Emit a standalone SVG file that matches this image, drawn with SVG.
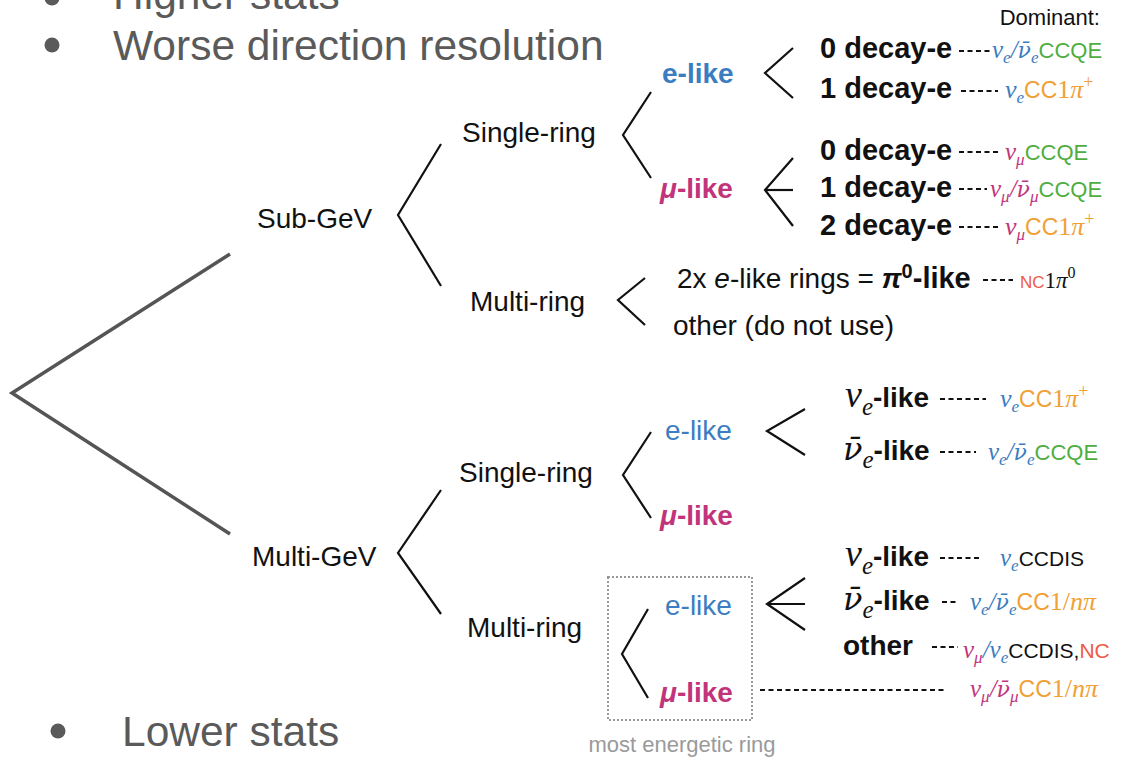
<svg xmlns="http://www.w3.org/2000/svg" width="1124" height="758" viewBox="0 0 1124 758">
<style>
.s{font-family:"Liberation Sans",Arial,sans-serif;}
.lbl{font-family:"Liberation Sans",Arial,sans-serif;font-size:28px;fill:#111;}
.dk{font-family:"Liberation Sans",Arial,sans-serif;font-size:29px;font-weight:bold;fill:#111;}
.b{font-weight:bold}
.m{font-family:"Liberation Serif","Times New Roman",serif;font-style:italic;}
.mb{font-family:"DejaVu Serif",serif;font-style:italic;}
.r{font-family:"Liberation Serif","Times New Roman",serif;}
.blue{fill:#3b7dc0}
.mag{fill:#c1347b}
.grn{fill:#4fae3f}
.org{fill:#f0a035}
.red{fill:#ee5b47}
.blk{fill:#111}
.bul{font-family:"Liberation Sans",Arial,sans-serif;font-size:42.5px;fill:#5a5a5a}
.br{fill:none;stroke:#111;stroke-width:2.2}
.big{fill:none;stroke:#555;stroke-width:3.5}
.dash{stroke:#111;stroke-width:2;stroke-dasharray:5 3.5}
.box{fill:none;stroke:#999;stroke-width:2;stroke-dasharray:2 2}
</style>
<rect width="1124" height="758" fill="#fff"/>

<g id="bullets">
  <circle cx="52" cy="-2" r="7.5" fill="#5a5a5a"/>
  <text class="bul" x="113" y="9">Higher stats</text>
  <circle cx="52" cy="45" r="7.5" fill="#5a5a5a"/>
  <text class="bul" x="113" y="60">Worse direction resolution</text>
  <circle cx="58" cy="731" r="7.5" fill="#5a5a5a"/>
  <text class="bul" x="122" y="746">Lower stats</text>
</g>

<g id="connectors">
  <polyline class="big" points="230,254 12,393 230,534"/>
  <polyline class="br" points="441,144 398,215 441,286"/>
  <polyline class="br" points="441,490 398,553 441,614"/>
  <polyline class="br" points="651,92 623,135 651,178"/>
  <polyline class="br" points="793,48 765,73 793,98"/>
  <polyline class="br" points="793,158 765,190 793,226"/>
  <line class="br" x1="765" y1="190" x2="793" y2="190"/>
  <polyline class="br" points="645,278 618,300 645,325"/>
  <polyline class="br" points="651,432 623,475 651,518"/>
  <polyline class="br" points="805,409 767,431 805,455"/>
  <polyline class="br" points="648,609 622,654 648,698"/>
  <polyline class="br" points="805,578 767,604 805,630"/>
  <line class="br" x1="767" y1="604" x2="805" y2="604"/>
  <line class="dash" x1="959" y1="51" x2="990" y2="51"/>
  <line class="dash" x1="961" y1="91" x2="998" y2="91"/>
  <line class="dash" x1="959" y1="152" x2="1000" y2="152"/>
  <line class="dash" x1="959" y1="189" x2="987" y2="189"/>
  <line class="dash" x1="959" y1="227" x2="1000" y2="227"/>
  <line class="dash" x1="983" y1="280" x2="1013" y2="280"/>
  <line class="dash" x1="940" y1="399" x2="986" y2="399"/>
  <line class="dash" x1="940" y1="452" x2="976" y2="452"/>
  <line class="dash" x1="940" y1="558" x2="982" y2="558"/>
  <line class="dash" x1="942" y1="602" x2="958" y2="602"/>
  <line class="dash" x1="932" y1="647" x2="958" y2="647"/>
  <line class="dash" x1="760" y1="690" x2="946" y2="690"/>
</g>

<g id="dominant">
  <text class="s" x="1100" y="25" font-size="22" fill="#111" text-anchor="end">Dominant:</text>
</g>

<g id="sub-gev"><text class="lbl" x="257" y="228">Sub-GeV</text></g>
<g id="multi-gev"><text class="lbl" x="252" y="566">Multi-GeV</text></g>

<g id="sub-single-ring"><text class="lbl" x="462" y="142">Single-ring</text></g>
<g id="sub-multi-ring"><text class="lbl" x="470" y="311" font-size="29">Multi-ring</text></g>
<g id="multi-single-ring"><text class="lbl" x="459" y="482">Single-ring</text></g>
<g id="multi-multi-ring"><text class="lbl" x="467" y="637" font-size="29">Multi-ring</text></g>

<g id="sub-sr-elike"><text class="lbl b blue" x="662" y="83">e-like</text></g>
<g id="sub-sr-mulike"><text class="lbl b mag" x="660" y="198"><tspan font-style="italic">μ</tspan>-like</text></g>

<g id="sub-sr-e-0">
  <text class="dk" x="820" y="58">0 decay-e</text>
  <text y="58" font-size="25"><tspan class="m blue" x="992">ν</tspan><tspan class="m blue" font-size="17" dy="5">e</tspan><tspan class="m blue" dy="-5">/</tspan><tspan class="mb blue" font-size="22">ν̄</tspan><tspan class="m blue" font-size="17" dy="5">e</tspan><tspan class="s grn" font-size="22" dy="-5">CCQE</tspan></text>
</g>
<g id="sub-sr-e-1">
  <text class="dk" x="820" y="98">1 decay-e</text>
  <text y="98" font-size="26"><tspan class="m blue" x="1005">ν</tspan><tspan class="m blue" font-size="17" dy="5">e</tspan><tspan class="s org" font-size="23" dy="-5">CC</tspan><tspan class="r org">1</tspan><tspan class="m org">π</tspan><tspan class="r org" font-size="18" dy="-10">+</tspan></text>
</g>

<g id="sub-sr-mu-0">
  <text class="dk" x="820" y="160">0 decay-e</text>
  <text y="160" font-size="25"><tspan class="m mag" x="1005">ν</tspan><tspan class="m mag" font-size="17" dy="5">μ</tspan><tspan class="s grn" font-size="22" dy="-5">CCQE</tspan></text>
</g>
<g id="sub-sr-mu-1">
  <text class="dk" x="820" y="197">1 decay-e</text>
  <text y="197" font-size="25"><tspan class="m mag" x="990">ν</tspan><tspan class="m mag" font-size="17" dy="5">μ</tspan><tspan class="m mag" dy="-5">/</tspan><tspan class="mb mag" font-size="22">ν̄</tspan><tspan class="m mag" font-size="17" dy="5">μ</tspan><tspan class="s grn" font-size="22" dy="-5">CCQE</tspan></text>
</g>
<g id="sub-sr-mu-2">
  <text class="dk" x="820" y="235">2 decay-e</text>
  <text y="235" font-size="26"><tspan class="m mag" x="1005">ν</tspan><tspan class="m mag" font-size="17" dy="5">μ</tspan><tspan class="s org" font-size="23" dy="-5">CC</tspan><tspan class="r org">1</tspan><tspan class="m org">π</tspan><tspan class="r org" font-size="18" dy="-10">+</tspan></text>
</g>

<g id="sub-mr-pi0">
  <text class="lbl" x="677" y="288">2x <tspan font-style="italic">e</tspan>-like rings = <tspan class="b"><tspan font-style="italic">π</tspan><tspan font-size="20" dy="-10">0</tspan><tspan dy="10" font-size="29">-like</tspan></tspan></text>
  <text y="288"><tspan class="s red" x="1020" font-size="17">NC</tspan><tspan class="r blk" font-size="23">1</tspan><tspan class="m blk" font-size="23">π</tspan><tspan class="r blk" font-size="16" dy="-10">0</tspan></text>
</g>
<g id="sub-mr-other"><text class="lbl" x="673" y="335">other (do not use)</text></g>

<g id="multi-sr-elike"><text class="lbl blue" x="665" y="440">e-like</text></g>
<g id="multi-sr-mulike"><text class="lbl b mag" x="660" y="525"><tspan font-style="italic">μ</tspan>-like</text></g>

<g id="multi-sr-nue">
  <text y="407"><tspan class="m blk" x="845" font-size="38">ν</tspan><tspan class="m blk" font-size="25" dy="8">e</tspan><tspan class="s b blk" font-size="28" dy="-8">-like</tspan></text>
  <text y="407" font-size="26"><tspan class="m blue" x="1000">ν</tspan><tspan class="m blue" font-size="17" dy="5">e</tspan><tspan class="s org" font-size="23" dy="-5">CC</tspan><tspan class="r org">1</tspan><tspan class="m org">π</tspan><tspan class="r org" font-size="18" dy="-10">+</tspan></text>
</g>
<g id="multi-sr-nuebar">
  <text y="460"><tspan class="mb blk" x="843" font-size="32">ν̄</tspan><tspan class="m blk" font-size="25" dy="8">e</tspan><tspan class="s b blk" font-size="28" dy="-8">-like</tspan></text>
  <text y="460" font-size="25"><tspan class="m blue" x="988">ν</tspan><tspan class="m blue" font-size="17" dy="5">e</tspan><tspan class="m blue" dy="-5">/</tspan><tspan class="mb blue" font-size="22">ν̄</tspan><tspan class="m blue" font-size="17" dy="5">e</tspan><tspan class="s grn" font-size="22" dy="-5">CCQE</tspan></text>
</g>

<g id="most-energetic-ring">
  <rect class="box" x="608" y="577" width="144" height="143"/>
  <text class="s" x="682" y="752" font-size="22" fill="#9a9a9a" text-anchor="middle">most energetic ring</text>
</g>
<g id="multi-mr-elike"><text class="lbl blue" x="665" y="615">e-like</text></g>
<g id="multi-mr-mulike"><text class="lbl b mag" x="660" y="702"><tspan font-style="italic">μ</tspan>-like</text></g>

<g id="multi-mr-nue">
  <text y="566"><tspan class="m blk" x="845" font-size="38">ν</tspan><tspan class="m blk" font-size="25" dy="8">e</tspan><tspan class="s b blk" font-size="28" dy="-8">-like</tspan></text>
  <text y="566" font-size="25"><tspan class="m blue" x="1000">ν</tspan><tspan class="m blue" font-size="17" dy="5">e</tspan><tspan class="s blk" font-size="21" dy="-5">CCDIS</tspan></text>
</g>
<g id="multi-mr-nuebar">
  <text y="610"><tspan class="mb blk" x="843" font-size="32">ν̄</tspan><tspan class="m blk" font-size="25" dy="8">e</tspan><tspan class="s b blk" font-size="28" dy="-8">-like</tspan></text>
  <text y="610" font-size="25"><tspan class="m blue" x="970">ν</tspan><tspan class="m blue" font-size="17" dy="5">e</tspan><tspan class="m blue" dy="-5">/</tspan><tspan class="mb blue" font-size="22">ν̄</tspan><tspan class="m blue" font-size="17" dy="5">e</tspan><tspan class="s org" font-size="23" dy="-5">CC</tspan><tspan class="r org" font-size="26">1/</tspan><tspan class="m org" font-size="26">nπ</tspan></text>
</g>
<g id="multi-mr-other">
  <text class="lbl b" x="843" y="655">other</text>
  <text y="658" font-size="25"><tspan class="m mag" x="963">ν</tspan><tspan class="m mag" font-size="17" dy="5">μ</tspan><tspan class="m blue" dy="-5">/ν</tspan><tspan class="m blue" font-size="17" dy="5">e</tspan><tspan class="s blk" font-size="21" dy="-5">CCDIS,</tspan><tspan class="s red" font-size="21">NC</tspan></text>
</g>
<g id="multi-mr-mu">
  <text y="697" font-size="25"><tspan class="m mag" x="970">ν</tspan><tspan class="m mag" font-size="17" dy="5">μ</tspan><tspan class="m mag" dy="-5">/</tspan><tspan class="mb mag" font-size="22">ν̄</tspan><tspan class="m mag" font-size="17" dy="5">μ</tspan><tspan class="s org" font-size="23" dy="-5">CC</tspan><tspan class="r org" font-size="26">1/</tspan><tspan class="m org" font-size="26">nπ</tspan></text>
</g>
</svg>
